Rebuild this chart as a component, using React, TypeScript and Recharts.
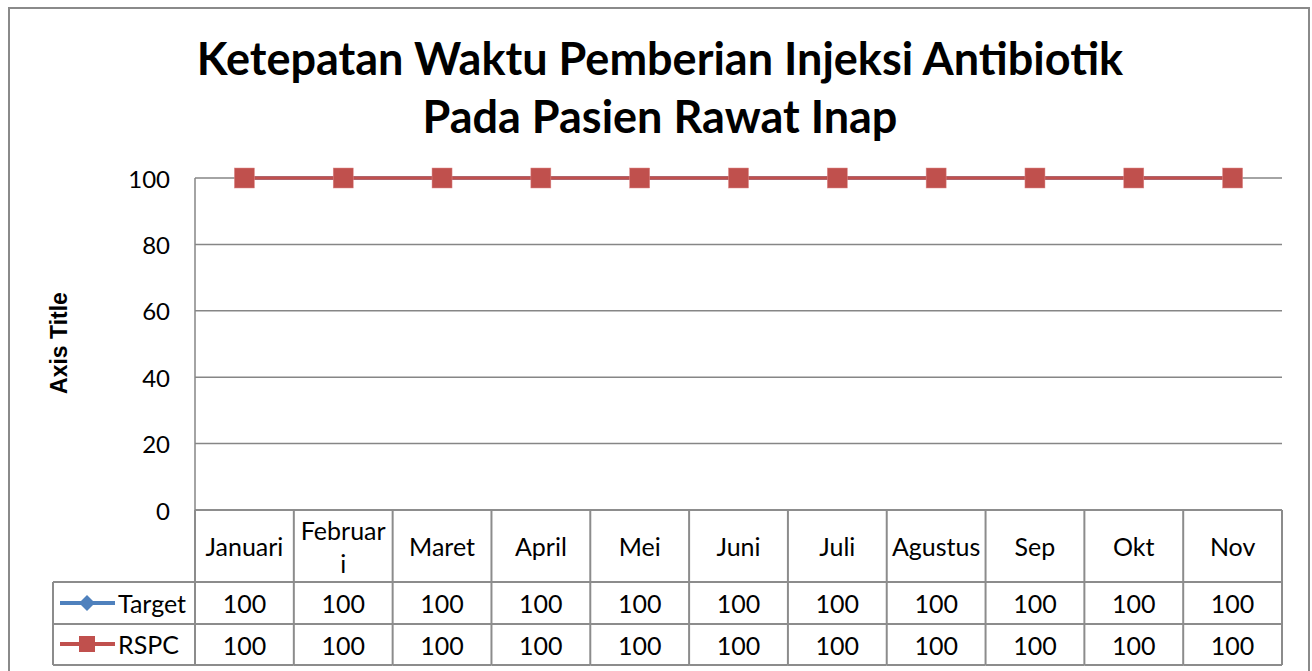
import React from "react";
import { LineChart, Line, XAxis, YAxis, CartesianGrid } from "recharts";

const months = ["Januari", "Februari", "Maret", "April", "Mei", "Juni", "Juli", "Agustus", "Sep", "Okt", "Nov"];
const target = [100, 100, 100, 100, 100, 100, 100, 100, 100, 100, 100];
const rspc = [100, 100, 100, 100, 100, 100, 100, 100, 100, 100, 100];
const yTicks = [0, 20, 40, 60, 80, 100];

const data = months.map((m, i) => ({ month: m, target: target[i], rspc: rspc[i] }));

const FONT = "Lato, 'Noto Sans', sans-serif";
const GRID = "#868686";
const TABLE = "#8c8c8c";
const BLUE = "#4F81BD";
const RED = "#C0504D";
const HALF = 49.4; // half a category band
const ROW1 = 582;
const ROW2 = 624;
const ROW3 = 665;
const LEGEND_LEFT = 53;

function SquareDot(props: any) {
  const { cx, cy } = props;
  if (cx == null || cy == null) return null;
  return <rect x={cx - 10} y={cy - 10} width={20} height={20} fill={RED} stroke="#d88" strokeWidth={0.5} />;
}

function DiamondDot(props: any) {
  const { cx, cy } = props;
  if (cx == null || cy == null) return null;
  return <path d={`M${cx},${cy - 8}L${cx + 8},${cy}L${cx},${cy + 8}L${cx - 8},${cy}Z`} fill={BLUE} />;
}

function TableTick(props: any) {
  const { x, y, index, payload } = props;
  const label: string = payload.value;
  const lines = label.length > 7 ? [label.slice(0, 7), label.slice(7)] : [label];
  const left = x - HALF;
  const right = x + HALF;
  const headMid = (y + ROW1) / 2;
  const textStyle = { fontFamily: FONT, fontSize: 25, fill: "#000" };
  return (
    <g>
      <line x1={left} y1={y} x2={left} y2={ROW3} stroke={TABLE} strokeWidth={2} />
      {index === months.length - 1 && (
        <line x1={right} y1={y} x2={right} y2={ROW3} stroke={TABLE} strokeWidth={2} />
      )}
      <line x1={left} y1={ROW1} x2={right} y2={ROW1} stroke={TABLE} strokeWidth={2} />
      <line x1={left} y1={ROW2} x2={right} y2={ROW2} stroke={TABLE} strokeWidth={2} />
      <line x1={left} y1={ROW3} x2={right} y2={ROW3} stroke={TABLE} strokeWidth={2} />
      {lines.map((t, k) => (
        <text
          key={k}
          x={x}
          y={headMid + (k - (lines.length - 1) / 2) * 33}
          textAnchor="middle"
          dominantBaseline="central"
          {...textStyle}
        >
          {t}
        </text>
      ))}
      <text x={x} y={(ROW1 + ROW2) / 2} textAnchor="middle" dominantBaseline="central" {...textStyle}>
        {target[index]}
      </text>
      <text x={x} y={(ROW2 + ROW3) / 2} textAnchor="middle" dominantBaseline="central" {...textStyle}>
        {rspc[index]}
      </text>
      {index === 0 && (
        <g>
          <line x1={LEGEND_LEFT} y1={ROW1} x2={left} y2={ROW1} stroke={TABLE} strokeWidth={2} />
          <line x1={LEGEND_LEFT} y1={ROW2} x2={left} y2={ROW2} stroke={TABLE} strokeWidth={2} />
          <line x1={LEGEND_LEFT} y1={ROW3} x2={left} y2={ROW3} stroke={TABLE} strokeWidth={2} />
          <line x1={LEGEND_LEFT} y1={ROW1} x2={LEGEND_LEFT} y2={ROW3} stroke={TABLE} strokeWidth={2} />
          <line x1={60} y1={603} x2={115} y2={603} stroke={BLUE} strokeWidth={4} />
          <path d="M87,595L95,603L87,611L79,603Z" fill={BLUE} />
          <text x={118} y={603} dominantBaseline="central" {...textStyle}>Target</text>
          <line x1={60} y1={644} x2={115} y2={644} stroke={RED} strokeWidth={4} />
          <rect x={79} y={636} width={16} height={16} fill={RED} />
          <text x={118} y={644} dominantBaseline="central" {...textStyle}>RSPC</text>
        </g>
      )}
    </g>
  );
}

function YTick(props: any) {
  const { y, payload } = props;
  return (
    <text x={170} y={y} textAnchor="end" dominantBaseline="central" fontFamily={FONT} fontSize={24} fill="#000">
      {payload.value}
    </text>
  );
}

export default function App() {
  return (
    <div style={{ position: "absolute", left: 0, top: 0, width: 1312, height: 671, overflow: "hidden", background: "#fff" }}>
      <div
        style={{
          position: "absolute",
          left: 8,
          top: 7,
          width: 1298,
          height: 700,
          border: "2px solid #8a8a8a",
        }}
      />
      <div
        style={{
          position: "absolute",
          left: 0,
          top: 29,
          width: 1320,
          textAlign: "center",
          fontFamily: FONT,
          fontWeight: 700,
          fontSize: 45,
          lineHeight: "58px",
          color: "#000",
        }}
      >
        Ketepatan Waktu Pemberian Injeksi Antibiotik
        <br />
        Pada Pasien Rawat Inap
      </div>
      <div style={{ position: "absolute", left: 0, top: 0 }}>
        <LineChart width={1312} height={671} data={data} margin={{ top: 178, right: 30, bottom: 0, left: 0 }}>
          <CartesianGrid vertical={false} stroke={GRID} strokeWidth={1.5} />
          <XAxis
            dataKey="month"
            interval={0}
            padding={{ left: HALF, right: HALF }}
            axisLine={{ stroke: GRID, strokeWidth: 1.5 }}
            tickLine={false}
            tickSize={0}
            tickMargin={0}
            height={161}
            tick={<TableTick />}
          />
          <YAxis
            domain={[0, 100]}
            ticks={yTicks}
            width={195}
            axisLine={{ stroke: GRID, strokeWidth: 1.5 }}
            tickLine={false}
            tick={<YTick />}
            label={() => (
              <text
                x={59}
                y={343}
                transform="rotate(-90 59 343)"
                textAnchor="middle"
                dominantBaseline="central"
                fontFamily="'Liberation Sans', Arial, sans-serif"
                fontWeight={700}
                fontSize={23}
                fill="#000"
              >
                Axis Title
              </text>
            )}
          />
          <Line
            dataKey="target"
            stroke={BLUE}
            strokeWidth={3.5}
            dot={<DiamondDot />}
            isAnimationActive={false}
          />
          <Line
            dataKey="rspc"
            stroke={RED}
            strokeWidth={3.5}
            dot={<SquareDot />}
            isAnimationActive={false}
          />
        </LineChart>
      </div>
    </div>
  );
}
